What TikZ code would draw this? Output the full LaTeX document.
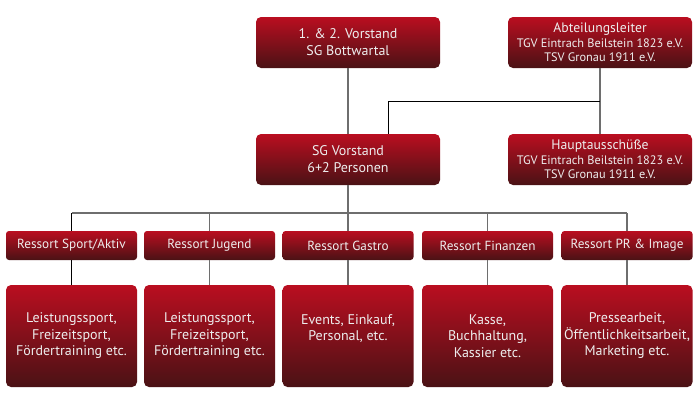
\documentclass[tikz,border=0pt]{standalone}
\usepackage{fontspec}
\setmainfont{PT Sans}
\usepackage{tikz}
\usetikzlibrary{calc}
\definecolor{sgred}{HTML}{BA0E20}
\definecolor{sgmid}{HTML}{A40E1E}
\definecolor{sgdark}{HTML}{4A1215}
\definecolor{sgtext}{HTML}{EEEEEE}
\definecolor{sggray}{HTML}{6E6E6E}
\tikzset{
	sgbox/.style={rectangle, rounded corners=5pt, top color=sgred, middle color=sgmid, bottom color=sgdark, text=sgtext, align=center, inner sep=0pt, minimum width=184pt, minimum height=51pt, font=\fontsize{14}{17}\selectfont},
	clubbox/.style={sgbox, font=\fontsize{12.3}{14.5}\selectfont},
	ressortbox/.style={sgbox, rounded corners=3pt, minimum width=131pt, minimum height=29pt, font=\fontsize{13.2}{16}\selectfont},
	infobox/.style={sgbox, minimum width=131pt, minimum height=102pt, font=\fontsize{14}{16.5}\selectfont},
	grayline/.style={line width=1.3pt, color=sggray},
	blackline/.style={line width=1pt, color=black}
}

\begin{document}
\begin{tikzpicture}[x=1pt, y=-1pt]
			%%%%% START %%%%%
			
			\useasboundingbox (0, 0) rectangle (700, 400);
			
			\node[sgbox] (vorstand) at (348, 42.5) {1. \& 2. Vorstand\\SG Bottwartal};
			\node[sgbox] (sgvorstand) at (348, 159.5) {SG Vorstand\\6+2 Personen};
			
			\node[clubbox] (abteilung) at (600, 42.5) {{\fontsize{13.7}{14.5}\selectfont Abteilungsleiter}\\TGV Eintrach Beilstein 1823 e.V.\\TSV Gronau 1911 e.V.};
			\node[clubbox] (haupt) at (600, 159.5) {{\fontsize{13.7}{14.5}\selectfont Hauptausschüße}\\TGV Eintrach Beilstein 1823 e.V.\\TSV Gronau 1911 e.V.};
			
			\node[ressortbox] (sport) at (71.5, 245.5) {Ressort Sport/Aktiv};
			\node[ressortbox] (jugend) at (209.5, 245.5) {Ressort Jugend};
			\node[ressortbox] (gastro) at (348, 245.5) {Ressort Gastro};
			\node[ressortbox] (finanzen) at (487.5, 245.5) {Ressort Finanzen};
			\node[ressortbox] (pr) at (627, 245.5) {Ressort PR \& Image};
			
			\node[infobox] (sportinfo) at (71.5, 336) {Leistungssport,\\Freizeitsport,\\Fördertraining etc.};
			\node[infobox] (jugendinfo) at (209.5, 336) {Leistungssport,\\Freizeitsport,\\Fördertraining etc.};
			\node[infobox] (gastroinfo) at (348, 336) {Events, Einkauf,\\Personal, etc.\\\mbox{}};
			\node[infobox] (finanzeninfo) at (487.5, 336) {Kasse,\\Buchhaltung,\\Kassier etc.};
			\node[infobox] (prinfo) at (627, 336) {Pressearbeit,\\Öffentlichkeitsarbeit,\\Marketing etc.};
			
			\coordinate (vjoin) at (388, 101);
			\coordinate (hbar) at (348, 213);
			
			\draw[grayline] (vorstand) -- (sgvorstand);
			\draw[grayline] (abteilung) -- (haupt);
			\draw[blackline] (vjoin |- sgvorstand.north) -- (vjoin) -- (vjoin -| haupt.north);
			
			\draw[grayline] (sgvorstand) -- (hbar);
			\draw[grayline] (sport.north |- hbar) -- (pr.north |- hbar);
			\draw[blackline] (sport.north |- hbar) -- (sport.north);
			\draw[grayline] (jugend.north |- hbar) -- (jugend.north);
			\draw[grayline] (gastro.north |- hbar) -- (gastro.north);
			\draw[grayline] (finanzen.north |- hbar) -- (finanzen.north);
			\draw[grayline] (pr.north |- hbar) -- (pr.north);
			
			\draw[blackline] (sport) -- (sportinfo);
			\draw[grayline] (jugend) -- (jugendinfo);
			\draw[grayline] (gastro) -- (gastroinfo);
			\draw[grayline] (finanzen) -- (finanzeninfo);
			\draw[grayline] (pr) -- (prinfo);
			
			%%%%% END %%%%%
\end{tikzpicture}
\end{document}
